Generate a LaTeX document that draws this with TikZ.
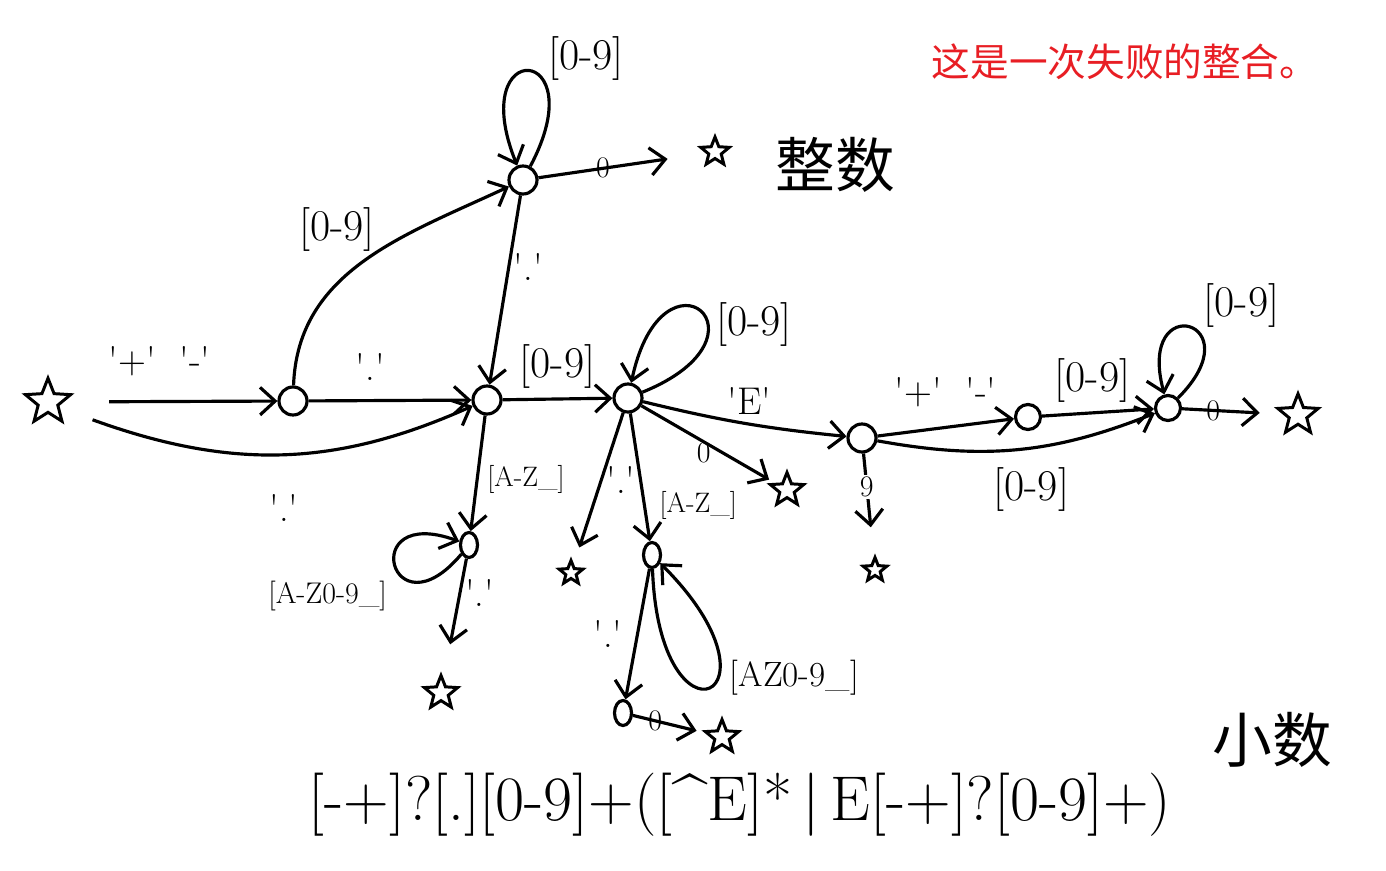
\documentclass[tikz,border=0pt]{standalone}
\usepackage{fontspec}
\newfontfamily\cjk{Noto Sans CJK SC}
\usetikzlibrary{arrows.meta,positioning,shapes.geometric}
\definecolor{failred}{RGB}{232,30,36}
\newcommand{\qch}[1]{\textquotesingle#1\textquotesingle}
\tikzset{
  kstate/.style={circle, draw, line width=1.8pt, minimum size=5.6mm, inner sep=0pt},
  ksmall/.style={ellipse, draw, line width=1.8pt, minimum width=3.4mm, minimum height=5mm, inner sep=0pt},
  kstar/.style={star, star points=5, star point ratio=2.3, draw, line width=1.7pt,
    minimum size=#1, inner sep=0pt, outer sep=2.5mm},
  kstar/.default=6mm,
  arr/.style={-{Straight Barb[length=3mm,width=5.5mm]}, line width=1.8pt},
  lbl/.style={font=\fontsize{25}{30}\selectfont, inner sep=2pt},
  lblaz/.style={font=\fontsize{16}{19}\selectfont, inner sep=2pt},
  lblq/.style={font=\fontsize{22}{26}\selectfont, inner sep=2pt},
  lblo/.style={font=\fontsize{17}{20}\selectfont, inner sep=1pt}
}

\begin{document}
\begin{tikzpicture}
    \useasboundingbox (0,0) rectangle (27.72,17.4);
    % states
    \node[kstar=9.5mm, outer sep=6mm] (start) at (0.96,9.36) {};
    \node[kstate] (sign) at (5.86,9.38) {};
    \node[kstate] (dot) at (9.74,9.40) {};
    \node[kstate] (intg) at (10.46,13.80) {};
    \node[kstate] (frac) at (12.56,9.44) {};
    \node[kstate] (expo) at (17.24,8.64) {};
    \node[kstate, minimum size=5mm] (esign) at (20.56,9.06) {};
    \node[kstate, minimum size=5mm] (edig) at (23.36,9.24) {};
    \node[ksmall] (idA) at (9.38,6.50) {};
    \node[ksmall] (idB) at (13.04,6.30) {};
    \node[ksmall] (idC) at (12.46,3.14) {};
    % ends
    \node[kstar=6mm, outer sep=6mm] (intEnd) at (14.30,14.36) {};
    \node[kstar=8.5mm, outer sep=3mm] (expEnd) at (25.96,9.10) {};
    \node[kstar=7mm, outer sep=1mm] (fracEnd) at (15.74,7.60) {};
    \node[kstar=5mm] (dotEnd) at (11.42,5.94) {};
    \node[kstar=5mm, outer sep=3mm] (eEnd) at (17.50,6.00) {};
    \node[kstar=7mm, outer sep=4mm] (idAEnd) at (8.82,3.54) {};
    \node[kstar=7mm, outer sep=1mm] (idCEnd) at (14.44,2.66) {};

    \draw[arr] (start) -- node[lblq, pos=0.3, above=4mm] {\qch{+}\ \ \qch{-}} (sign);
    \draw[arr] (start) to[bend right=22] node[lblq, pos=0.5, below=7mm] {\qch{.}} (dot);
    \draw[arr] (sign) to[out=88,in=205] node[lbl, pos=0.55, above left=-1mm] {[0-9]} (intg);
    \draw[arr] (sign) -- node[lblq, pos=0.38, above=3mm] {\qch{.}} (dot);
    \draw[arr] (intg) to[out=62,in=112,min distance=2.8cm] node[lbl, pos=0.35, above right=-1mm and 0mm] {[0-9]} (intg);
    \draw[arr] (intg) -- node[lblo, pos=0.5] {0} (intEnd);
    \draw[arr] (intg) -- node[lblq, pos=0.38, right] {\qch{.}} (dot);
    \draw[arr] (dot) -- node[lbl, pos=0.5, above=1mm] {[0-9]} (frac);
    \draw[arr] (frac) to[out=22,in=78,min distance=3cm] node[lbl, pos=0.28, above right=-2mm and 1mm] {[0-9]} (frac);
    \draw[arr] (frac) to[bend right=4] node[lblq, pos=0.53, above=1mm] {\qch{E}} (expo);
    \draw[arr] (frac) -- node[lblo, pos=0.45, below left=0mm and -3mm] {0} (fracEnd);
    \draw[arr] (frac) -- node[lblq, pos=0.5, right] {\qch{.}} (dotEnd);
    \draw[arr] (frac) -- node[lblaz, pos=0.72, right=2mm] {[A-Z\_]} (idB);
    \draw[arr] (dot) -- node[lblaz, pos=0.55, right=1mm] {[A-Z\_]} (idA);
    \draw[arr] (idA) to[out=230,in=160,min distance=2.2cm] node[lblaz, pos=0.45, below left=1mm and 1mm, font=\fontsize{17}{20}\selectfont] {[A-Z0-9\_]} (idA);
    \draw[arr] (idA) -- node[lblq, pos=0.4, right] {\qch{.}} (idAEnd);
    \draw[arr] (idB) to[out=-88,in=-45,min distance=3.8cm] node[pos=0.6, right=1mm, font=\fontsize{20}{24}\selectfont] {[AZ0-9\_]} (idB);
    \draw[arr] (idB) -- node[lblq, pos=0.5, left=2mm] {\qch{.}} (idC);
    \draw[arr] (idC) -- node[lblo, pos=0.35] {0} (idCEnd);
    \draw[arr] (expo) -- node[lblq, pos=0.5, above=3mm] {\qch{+}\ \ \qch{-}} (esign);
    \draw[arr] (expo) to[bend right=16] node[lbl, pos=0.55, below=3mm] {[0-9]} (edig);
    \draw[arr] (expo) -- node[lblo, pos=0.45, fill=white] {9} (eEnd);
    \draw[arr] (esign) -- node[lbl, pos=0.45, above=1mm] {[0-9]} (edig);
    \draw[arr] (edig) to[out=45,in=105,min distance=2.2cm] node[lbl, pos=0.4, above right=0mm and 0mm] {[0-9]} (edig);
    \draw[arr] (edig) -- node[lblo, pos=0.4] {0} (expEnd);

    % notes
    \node[font=\cjk\fontsize{34}{40}\selectfont] (intName) at (16.7,14.1) {整数};
    \node[font=\cjk\fontsize{34}{40}\selectfont] (fracName) at (25.44,2.60) {小数};
    \node[font=\fontsize{36}{42}\selectfont] (regex) at (14.8,1.30) {[-+]?[.][0-9]+([\textasciicircum E]*\,|\,E[-+]?[0-9]+)};
    \node[font=\cjk\fontsize{22}{26}\selectfont, text=failred] (remark) at (22.5,16.16) {这是一次失败的整合。};
  \end{tikzpicture}
\end{document}
